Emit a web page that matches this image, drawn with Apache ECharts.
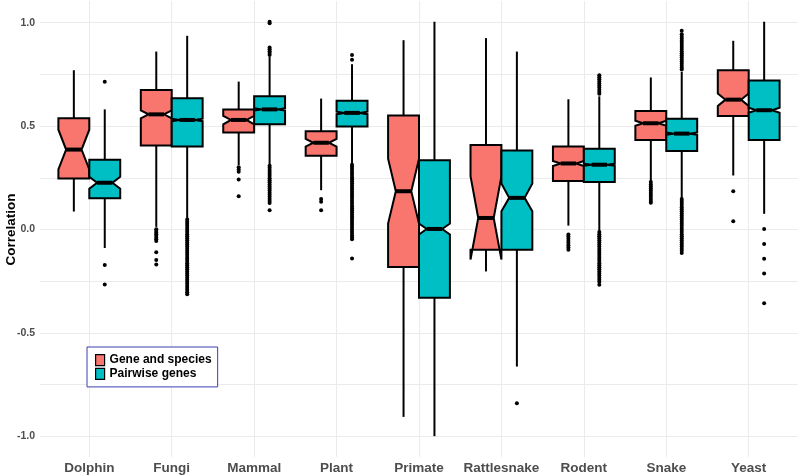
<!DOCTYPE html>
<html><head><meta charset="utf-8">
<script src="https://cdn.jsdelivr.net/npm/echarts@6/dist/echarts.min.js"></script>
<style>html,body{margin:0;padding:0;background:#fff}#c{width:800px;height:476px}</style>
</head><body><div id="c"></div>
<script>
const categories = ['Dolphin','Fungi','Mammal','Plant','Primate','Rattlesnake','Rodent','Snake','Yeast'];
const seriesNames = ['Gene and species','Pairwise genes'];
const yTickLabels = ['-1.0','-0.5','0.0','0.5','1.0'];

// Gene and species
const gsLow    = [0.084, 0.010, 0.308, 0.187, -0.907, -0.205, 0.016, 0.231, 0.258];
const gsQ1     = [0.244, 0.403, 0.465, 0.353, -0.184, -0.100, 0.231, 0.429, 0.545];
const gsMedian = [0.383, 0.553, 0.526, 0.416, 0.182, 0.053, 0.316, 0.510, 0.624];
const gsQ3     = [0.534, 0.671, 0.576, 0.471, 0.547, 0.405, 0.398, 0.569, 0.766];
const gsHigh   = [0.766, 0.856, 0.711, 0.629, 0.911, 0.921, 0.626, 0.731, 0.908];
const gsNotchLo= [0.287, 0.534, 0.505, 0.397, 0.026, -0.148, 0.304, 0.498, 0.594];
const gsNotchHi= [0.479, 0.572, 0.546, 0.435, 0.339, 0.255, 0.328, 0.522, 0.654];
const gsOutliers = [
  [],
  [-0.002,-0.010,-0.018,-0.026,-0.034,-0.042,-0.050,-0.058,-0.112,-0.150,-0.171],
  [0.298,0.287,0.276,0.239,0.158],
  [0.145,0.131,0.090],
  [],
  [],
  [-0.027,-0.037,-0.047,-0.058,-0.068,-0.079,-0.089,-0.100],
  [0.226,0.215,0.205,0.195,0.185,0.175,0.165,0.155,0.145,0.135,0.126],
  [0.182,0.037]
];

// Pairwise genes
const pgLow    = [-0.092, 0.048, 0.311, 0.315, -1.000, -0.664, -0.011, 0.150, 0.073];
const pgQ1     = [0.148, 0.398, 0.505, 0.494, -0.332, -0.100, 0.226, 0.376, 0.429];
const pgMedian = [0.223, 0.526, 0.577, 0.560, 0.000, 0.150, 0.310, 0.460, 0.573];
const pgQ3     = [0.334, 0.631, 0.640, 0.619, 0.332, 0.379, 0.387, 0.532, 0.716];
const pgHigh   = [0.577, 0.932, 0.830, 0.795, 1.000, 0.856, 0.640, 0.758, 1.000];
const pgNotchLo= [0.194, 0.520, 0.571, 0.554, -0.027, 0.085, 0.305, 0.454, 0.561];
const pgNotchHi= [0.252, 0.532, 0.583, 0.566, 0.026, 0.219, 0.315, 0.466, 0.585];
const pgOutliers = [
  [0.710,-0.174,-0.268],
  [0.045,0.035,0.025,0.015,0.005,-0.005,-0.015,-0.025,-0.035,-0.045,-0.055,-0.065,-0.075,-0.085,-0.095,-0.105,-0.115,-0.125,-0.135,-0.145,-0.155,-0.165,-0.175,-0.185,-0.195,-0.205,-0.215,-0.225,-0.235,-0.245,-0.255,-0.265,-0.275,-0.285,-0.295,-0.305,-0.315],
  [1.000,0.993,0.876,0.867,0.858,0.849,0.840,0.305,0.295,0.285,0.275,0.265,0.255,0.245,0.235,0.225,0.215,0.205,0.195,0.185,0.175,0.165,0.155,0.145,0.135,0.125,0.090],
  [0.839,0.816,0.310,0.300,0.290,0.280,0.270,0.260,0.250,0.240,0.230,0.220,0.210,0.200,0.190,0.180,0.170,0.160,0.150,0.140,0.130,0.120,0.110,0.100,0.090,0.080,0.070,0.060,0.050,0.040,0.030,0.020,0.010,0.000,-0.010,-0.020,-0.030,-0.040,-0.050,-0.142],
  [],
  [-0.841],
  [0.742,0.732,0.722,0.712,0.702,0.692,0.682,0.672,0.662,0.652,-0.015,-0.025,-0.035,-0.045,-0.055,-0.065,-0.075,-0.085,-0.095,-0.105,-0.115,-0.125,-0.135,-0.145,-0.155,-0.165,-0.175,-0.185,-0.195,-0.205,-0.215,-0.225,-0.235,-0.245,-0.255,-0.269],
  [0.956,0.940,0.928,0.918,0.908,0.898,0.888,0.878,0.868,0.858,0.848,0.838,0.828,0.818,0.808,0.798,0.788,0.778,0.770,0.145,0.135,0.125,0.115,0.105,0.095,0.085,0.075,0.065,0.055,0.045,0.035,0.025,0.015,0.005,-0.005,-0.015,-0.025,-0.035,-0.045,-0.055,-0.065,-0.075,-0.085,-0.095,-0.105,-0.116],
  [0.000,-0.073,-0.144,-0.215,-0.358]
];

const colors = ['#F8766D', '#00BFC4'];
const FONT = '"Liberation Sans", Arial, Helvetica, sans-serif';

function boxData(low, q1, med, q3, high, nlo, nhi) {
  return categories.map((c, i) => [i, low[i], q1[i], med[i], q3[i], high[i], nlo[i], nhi[i]]);
}
function outData(list) {
  const out = [];
  list.forEach((vals, i) => vals.forEach(v => out.push([i, v])));
  return out;
}
function boxRender(side, color) {
  return function (params, api) {
    const i = api.value(0);
    const band = api.size([1, 0])[0];
    const w = band * 0.375;
    const cx = api.coord([i, 0])[0] + side * w / 2;
    const y = v => api.coord([i, v])[1];
    const low = y(api.value(1)), q1 = y(api.value(2)), med = y(api.value(3)),
          q3 = y(api.value(4)), high = y(api.value(5)), nlo = y(api.value(6)), nhi = y(api.value(7));
    const xmin = cx - w / 2, xmax = cx + w / 2, ind = w * 0.25;
    const ls = { stroke: '#000', lineWidth: 2 };
    return {
      type: 'group',
      children: [
        { type: 'line', shape: { x1: cx, y1: q3, x2: cx, y2: high }, style: ls },
        { type: 'line', shape: { x1: cx, y1: q1, x2: cx, y2: low }, style: ls },
        { type: 'polygon', shape: { points: [[xmin, q3], [xmin, nhi], [xmin + ind, med], [xmin, nlo], [xmin, q1],
            [xmax, q1], [xmax, nlo], [xmax - ind, med], [xmax, nhi], [xmax, q3]] },
          style: { fill: color, stroke: '#000', lineWidth: 2, lineJoin: 'miter' } },
        { type: 'line', shape: { x1: xmin + ind, y1: med, x2: xmax - ind, y2: med }, style: { stroke: '#000', lineWidth: 4 } }
      ]
    };
  };
}
function outRender(side) {
  return function (params, api) {
    const i = api.value(0);
    const band = api.size([1, 0])[0];
    const w = band * 0.375;
    const p = api.coord([i, api.value(1)]);
    return { type: 'circle', shape: { cx: p[0] + side * w / 2, cy: p[1], r: 2 }, style: { fill: '#000' } };
  };
}

const chart = echarts.init(document.getElementById('c'), null, { renderer: 'canvas' });
chart.setOption({
  backgroundColor: '#fff',
  animation: false,
  grid: [
    { left: 89.3, right: 51.3, top: 1, bottom: 19.1, containLabel: false, outerBoundsMode: 'none' },
    { left: 40, right: 2, top: 22.7, bottom: 39.8, containLabel: false, outerBoundsMode: 'none' }
  ],
  xAxis: [
    { gridIndex: 0, type: 'category', data: categories, boundaryGap: false,
      axisLine: { show: false }, axisTick: { show: false },
      splitLine: { show: true, lineStyle: { color: '#ebebeb', width: 1 } },
      axisLabel: { interval: 0, margin: 4, fontFamily: FONT, fontWeight: 'bold', fontSize: 13.5, color: '#4d4d4d' } },
    { gridIndex: 1, type: 'value', min: 0, max: 1, show: false }
  ],
  yAxis: [
    { gridIndex: 0, type: 'value', min: -1.1, max: 1.1, show: false, splitLine: { show: false } },
    { gridIndex: 1, type: 'value', min: -1, max: 1, interval: 0.25,
      axisLine: { show: false }, axisTick: { show: false },
      splitLine: { show: true, lineStyle: { color: '#ebebeb', width: 1 } },
      axisLabel: { margin: 5, fontFamily: FONT, fontWeight: 'bold', fontSize: 10.5, color: '#4d4d4d',
        formatter: v => { const k = Math.round(v * 2); return Math.abs(v * 2 - k) < 1e-6 ? yTickLabels[k + 2] : ''; } },
      name: 'Correlation', nameLocation: 'middle', nameRotate: 90, nameGap: 22, nameMoveOverlap: false,
      nameTextStyle: { fontFamily: FONT, fontWeight: 'bold', fontSize: 13.5, color: '#000' } }
  ],
  legend: {
    data: seriesNames, orient: 'vertical', left: 87, top: 347,
    padding: [7, 6, 7, 8], itemGap: 1.5, itemWidth: 9, itemHeight: 11,
    borderColor: '#3d3db3', borderWidth: 1, backgroundColor: '#fff', borderRadius: 0,
    icon: 'rect', selectedMode: false,
    itemStyle: { borderColor: '#000', borderWidth: 1.2 },
    textStyle: { fontFamily: FONT, fontWeight: 'bold', fontSize: 12, color: '#000' }
  },
  series: [
    { type: 'line', xAxisIndex: 1, yAxisIndex: 1, data: [], name: '_grid', silent: true },
    { type: 'custom', name: seriesNames[0], xAxisIndex: 0, yAxisIndex: 0, itemStyle: { color: colors[0] },
      encode: { x: 0, y: [1, 2, 3, 4, 5] }, renderItem: boxRender(-1, colors[0]),
      data: boxData(gsLow, gsQ1, gsMedian, gsQ3, gsHigh, gsNotchLo, gsNotchHi) },
    { type: 'custom', name: seriesNames[1], xAxisIndex: 0, yAxisIndex: 0, itemStyle: { color: colors[1] },
      encode: { x: 0, y: [1, 2, 3, 4, 5] }, renderItem: boxRender(1, colors[1]),
      data: boxData(pgLow, pgQ1, pgMedian, pgQ3, pgHigh, pgNotchLo, pgNotchHi) },
    { type: 'custom', name: seriesNames[0], xAxisIndex: 0, yAxisIndex: 0, itemStyle: { color: colors[0] },
      encode: { x: 0, y: 1 }, renderItem: outRender(-1), data: outData(gsOutliers) },
    { type: 'custom', name: seriesNames[1], xAxisIndex: 0, yAxisIndex: 0, itemStyle: { color: colors[1] },
      encode: { x: 0, y: 1 }, renderItem: outRender(1), data: outData(pgOutliers) }
  ]
});
</script></body></html>
